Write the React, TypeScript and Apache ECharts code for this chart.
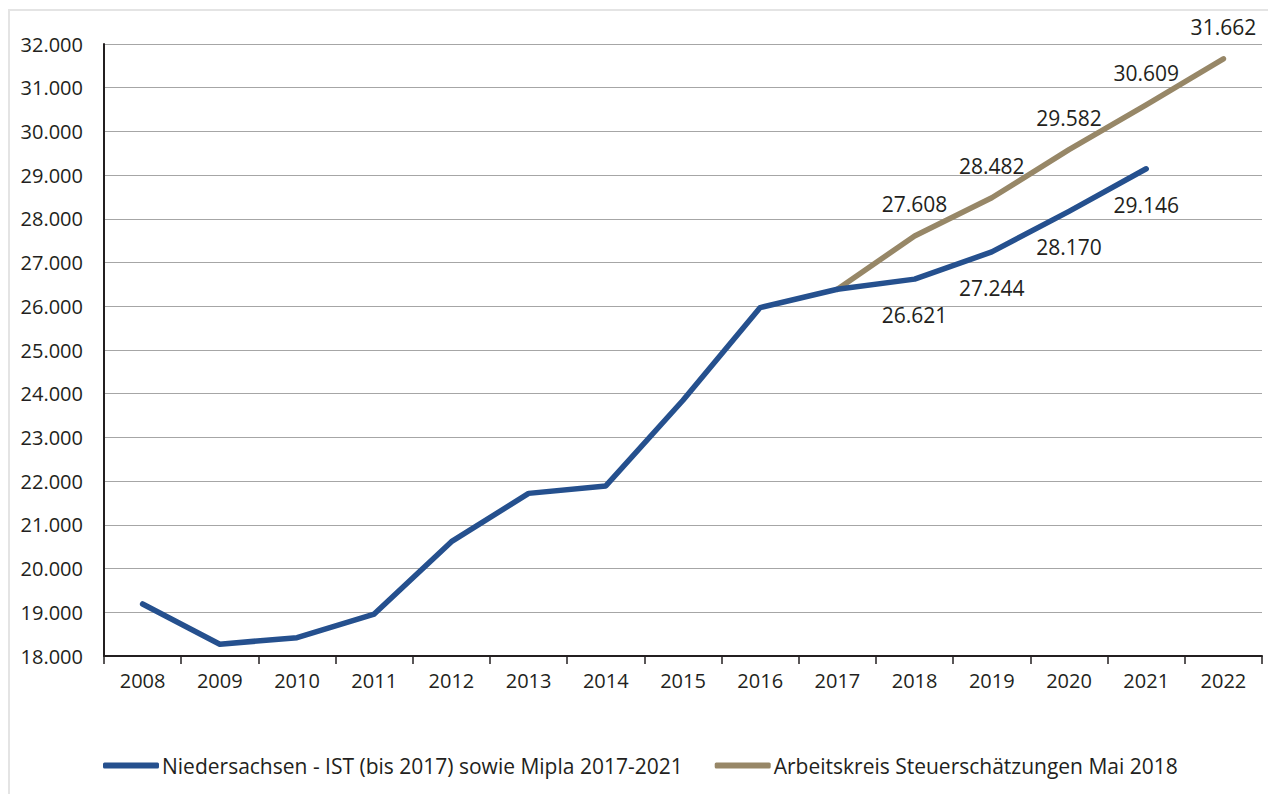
import React, { useEffect, useRef } from "react";
import * as echarts from "echarts";

const years = ["2008", "2009", "2010", "2011", "2012", "2013", "2014", "2015", "2016", "2017", "2018", "2019", "2020", "2021", "2022"];
const niedersachsen = [19190, 18270, 18420, 18960, 20615, 21720, 21890, 23850, 25970, 26390, 26621, 27244, 28170, 29146, null];
const arbeitskreis = [null, null, null, null, null, null, null, null, null, 26390, 27608, 28482, 29582, 30609, 31662];
const labelFromIndex = 10;
const seriesNames = ["Niedersachsen - IST (bis 2017) sowie Mipla 2017-2021", "Arbeitskreis Steuerschätzungen Mai 2018"];

const FONT = "'Open Sans', sans-serif";
const TEXT = "#231F20";
const BLUE = "#25508E";
const BROWN = "#978767";

const fmt = (v: number) => {
  const s = Math.round(v).toString();
  return s.replace(/\B(?=(\d{3})+(?!\d))/g, ".");
};

function toData(arr: (number | null)[], position: string, distance: number) {
  return arr.map((v, i) => {
    if (v === null) return null;
    return {
      value: v,
      label: {
        show: i >= labelFromIndex,
        position,
        distance,
        formatter: (p: any) => fmt(p.value),
        color: TEXT,
        fontSize: 21,
        fontFamily: FONT,
      },
    };
  });
}

export default function App() {
  const ref = useRef<HTMLDivElement>(null);
  useEffect(() => {
    if (!ref.current) return;
    const chart = echarts.init(ref.current, null, { renderer: "svg" });
    chart.setOption({
      animation: false,
      backgroundColor: "#ffffff",
      graphic: [
        {
          type: "rect",
          shape: { x: 9, y: 10, width: 1400, height: 900 },
          style: { fill: "none", stroke: "#E4E4E4", lineWidth: 2 },
          silent: true,
          z: -10,
        },
      ],
      grid: { left: 104, right: 6, top: 44, bottom: 138, containLabel: false },
      legend: {
        left: 98,
        top: 750,
        itemWidth: 56,
        itemHeight: 6,
        itemGap: 32,
        icon: "roundRect",
        textStyle: { color: TEXT, fontSize: 21, fontFamily: FONT, padding: [0, 0, 0, -2] },
        data: seriesNames,
      },
      xAxis: {
        type: "category",
        data: years,
        boundaryGap: true,
        axisLine: { show: true, lineStyle: { color: TEXT, width: 2 } },
        axisTick: { show: true, length: 8, lineStyle: { color: TEXT, width: 1.5 } },
        axisLabel: { color: TEXT, fontSize: 20, fontFamily: FONT, margin: 14 },
        splitLine: { show: false },
      },
      yAxis: {
        type: "value",
        min: 18000,
        max: 32000,
        interval: 1000,
        axisLine: { show: true, lineStyle: { color: TEXT, width: 2 } },
        axisTick: { show: false },
        axisLabel: { color: TEXT, fontSize: 20, fontFamily: FONT, margin: 21, formatter: (v: number) => fmt(v) },
        splitLine: { show: true, lineStyle: { color: "#A6A6A6", width: 1 } },
      },
      series: [
        {
          name: seriesNames[0],
          type: "line",
          data: toData(niedersachsen, "bottom", 25),
          symbol: "circle",
          symbolSize: 1,
          showSymbol: true,
          connectNulls: false,
          lineStyle: { color: BLUE, width: 5.5, cap: "round", join: "round" },
          itemStyle: { color: BLUE },
          z: 3,
        },
        {
          name: seriesNames[1],
          type: "line",
          data: toData(arbeitskreis, "top", 21),
          symbol: "circle",
          symbolSize: 1,
          showSymbol: true,
          connectNulls: false,
          lineStyle: { color: BROWN, width: 5.5, cap: "round", join: "round" },
          itemStyle: { color: BROWN },
          z: 2,
        },
      ],
    });
    return () => chart.dispose();
  }, []);
  return <div ref={ref} style={{ position: "fixed", left: 0, top: 0, width: 1268, height: 794 }} />;
}
